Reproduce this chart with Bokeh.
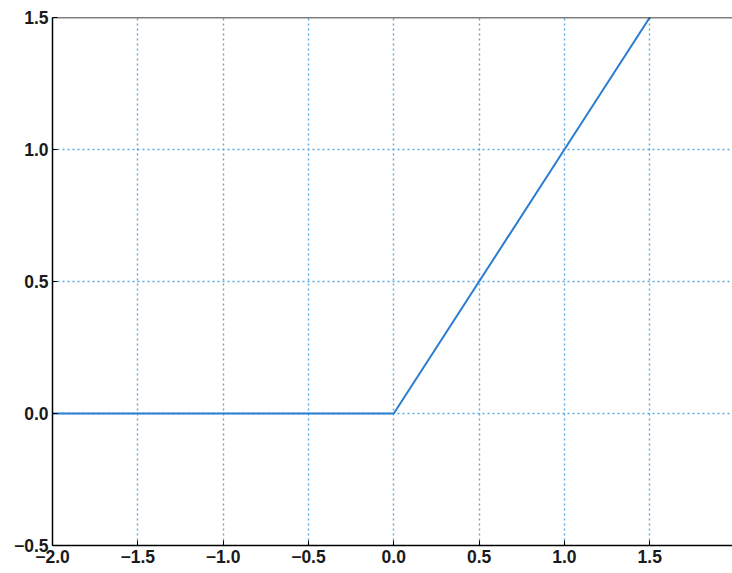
from bokeh.plotting import figure
from bokeh.models import FixedTicker, Range1d, Span
from bokeh.embed import file_html
from bokeh.resources import INLINE

# data
x_vals = [-2.0, -1.0, 0.0, 1.0, 2.0]
y_vals = [0.0, 0.0, 0.0, 1.0, 2.0]

x_ticks = [-2.0, -1.5, -1.0, -0.5, 0.0, 0.5, 1.0, 1.5]
x_tick_labels = ["−2.0", "−1.5", "−1.0", "−0.5", "0.0", "0.5", "1.0", "1.5"]
y_ticks = [-0.5, 0.0, 0.5, 1.0, 1.5]
y_tick_labels = ["−0.5", "0.0", "0.5", "1.0", "1.5"]

y_min, y_max = -0.5, 1.5

p = figure(width=732, height=573, output_backend="svg", toolbar_location=None,
           x_range=Range1d(-2.0, 1.985), y_range=Range1d(y_min, y_max),
           min_border_left=52, min_border_right=0, min_border_top=17, min_border_bottom=28)

p.line(x_vals, y_vals, line_color="#2a7dd0", line_width=2)

font = "Liberation Sans"
for ax, ticks, labels in ((p.xaxis[0], x_ticks, x_tick_labels), (p.yaxis[0], y_ticks, y_tick_labels)):
    ax.ticker = FixedTicker(ticks=ticks)
    ax.major_label_overrides = {t: l for t, l in zip(ticks, labels)}
    ax.minor_tick_line_color = None
    ax.major_tick_in = 5
    ax.major_tick_out = 0
    ax.axis_line_color = "black"
    ax.axis_line_width = 1.5
    ax.major_tick_line_color = "black"
    ax.major_label_text_font = font
    ax.major_label_text_font_size = "17.5px"
    ax.major_label_text_font_style = "bold"
    ax.major_label_text_color = "#1a1a1a"
    ax.major_label_standoff = 4

# frame: top border only (right border is outside the visible page)
p.outline_line_color = None
p.add_layout(Span(location=y_max, dimension="width", line_color="black", line_width=1.5))

for g in (p.xgrid[0], p.ygrid[0]):
    g.grid_line_color = "#5aa8e0"
    g.grid_line_dash = "2 3"
    g.grid_line_width = 1.4

p.background_fill_color = "white"
p.border_fill_color = "white"

open("out.html", "w").write(file_html(p, INLINE))
